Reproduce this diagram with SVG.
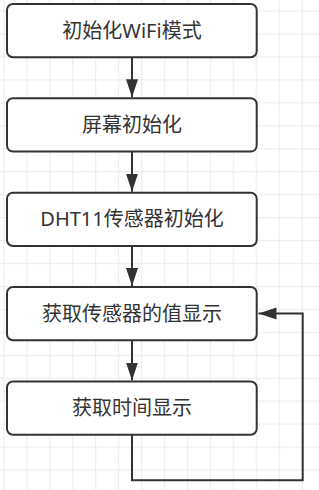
<svg xmlns="http://www.w3.org/2000/svg" width="319" height="490" viewBox="0 0 319 490">
  <defs>
    <pattern id="grid" patternUnits="userSpaceOnUse" x="3.3" y="10.45" width="22.95" height="22.95">
      <path d="M0.5,0 V22.95 M0,0.5 H22.95" fill="none" stroke="#eeeeee" stroke-width="1.4"/>
    </pattern>
    <marker id="arrow" markerUnits="userSpaceOnUse" markerWidth="20" markerHeight="14" refX="18" refY="6" orient="auto">
      <path d="M0,0 L18,6 L0,12 Z" fill="#333"/>
    </marker>
  </defs>
  <style>
    .box { fill: #ffffff; stroke: #333333; stroke-width: 2; }
    .lbl { font-family: "Noto Sans", "Noto Sans CJK SC", sans-serif; font-size: 20px; fill: #333333; text-anchor: middle; }
    .edge { fill: none; stroke: #333333; stroke-width: 2; marker-end: url(#arrow); }
  </style>
  <rect x="0" y="0" width="319" height="490" fill="#ffffff"/>
  <rect x="0" y="0" width="319" height="490" fill="url(#grid)"/>

  <g id="connectors">
    <path class="edge" d="M132,57.3 V97.3"/>
    <path class="edge" d="M132,151.6 V191.7"/>
    <path class="edge" d="M132,246 V286"/>
    <path class="edge" d="M132,340.3 V380.5"/>
    <path class="edge" d="M132,434.8 V480.3 H302.7 V313.6 H258.5"/>
  </g>

  <g id="node1">
    <rect class="box" x="7" y="4" width="249.7" height="53.3" rx="6"/>
    <text class="lbl" x="132" y="37.6">初始化WiFi模式</text>
  </g>
  <g id="node2">
    <rect class="box" x="7" y="98.3" width="249.7" height="53.3" rx="6"/>
    <text class="lbl" x="132" y="132">屏幕初始化</text>
  </g>
  <g id="node3">
    <rect class="box" x="7" y="192.7" width="249.7" height="53.3" rx="6"/>
    <text class="lbl" x="132" y="226.3">DHT11传感器初始化</text>
  </g>
  <g id="node4">
    <rect class="box" x="7" y="287" width="249.7" height="53.3" rx="6"/>
    <text class="lbl" x="132" y="320.6">获取传感器的值显示</text>
  </g>
  <g id="node5">
    <rect class="box" x="7" y="381.5" width="249.7" height="53.3" rx="6"/>
    <text class="lbl" x="132" y="415">获取时间显示</text>
  </g>
</svg>
